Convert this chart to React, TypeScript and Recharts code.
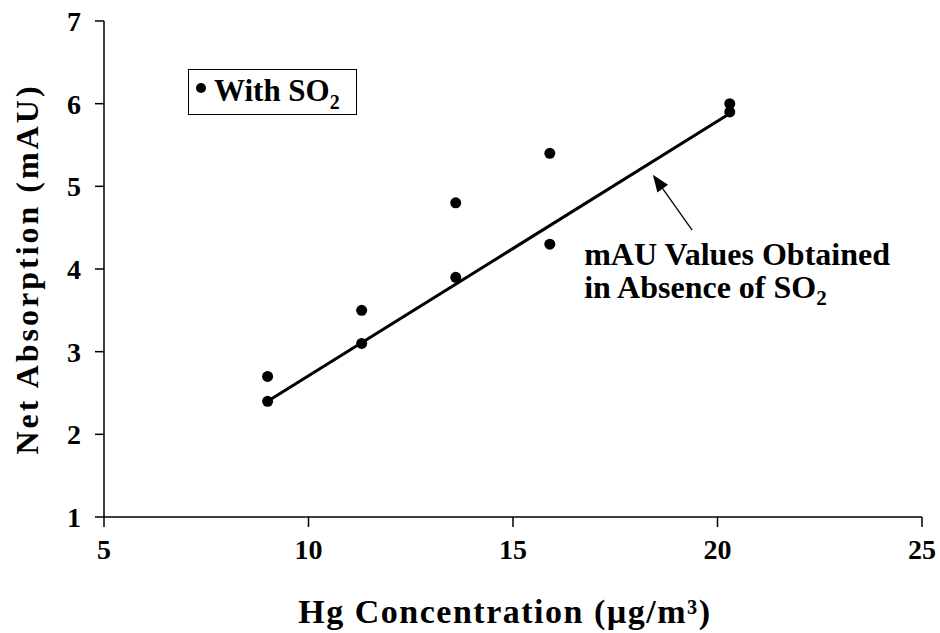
import React from "react";
import {
  ComposedChart,
  Scatter,
  XAxis,
  YAxis,
  Legend,
  Label,
  ReferenceLine,
  ReferenceDot,
} from "recharts";

const FONT = '"Liberation Serif", "Times New Roman", serif';

// measured points, Hg concentration vs net absorption with SO2
const hgConc = [9.0, 9.0, 11.3, 11.3, 13.6, 13.6, 15.9, 15.9, 20.3, 20.3];
const withSO2 = [2.7, 2.4, 3.5, 3.1, 4.8, 3.9, 5.4, 4.3, 6.0, 5.9];

// fitted line, values obtained in absence of SO2
const fitX = [9.0, 20.3];
const fitY = [2.4, 5.88];

const xTicks = [5, 10, 15, 20, 25];
const yTicks = [1, 2, 3, 4, 5, 6, 7];

// arrow pointing at the fit line, and the note under it
const arrowFrom = { x: 19.38, y: 4.47 };
const arrowTo = { x: 18.42, y: 5.14 };
const noteAt = { x: 16.74, y: 4.05 };

const points = hgConc.map((x, i) => ({ x, y: withSO2[i] }));
const fit = fitX.map((x, i) => ({ x, y: fitY[i] }));

const tickStyle = { fill: "#000", fontSize: 28, fontWeight: 700, fontFamily: FONT };

function XTitle(props: any) {
  const vb = props.viewBox || { x: 104, y: 517, width: 818, height: 116 };
  return (
    <text
      x={vb.x + vb.width / 2 - 8}
      y={vb.y + 106}
      textAnchor="middle"
      fontFamily={FONT}
      fontWeight={700}
      fontSize={34}
      letterSpacing={1.5}
      fill="#000"
    >
      Hg Concentration (µg/m³)
    </text>
  );
}

function YTitle(props: any) {
  const vb = props.viewBox || { x: 0, y: 21, width: 104, height: 496 };
  const cx = vb.x + 27;
  const cy = vb.y + vb.height / 2;
  return (
    <text
      x={cx}
      y={cy}
      transform={`rotate(-90 ${cx} ${cy})`}
      textAnchor="middle"
      dominantBaseline="central"
      fontFamily={FONT}
      fontWeight={700}
      fontSize={32}
      letterSpacing={3}
      fill="#000"
    >
      Net Absorption (mAU)
    </text>
  );
}

function LegendBox() {
  return (
    <div
      style={{
        width: 169,
        height: 46,
        border: "1.5px solid #000",
        boxSizing: "border-box",
        display: "flex",
        alignItems: "center",
        fontFamily: FONT,
        fontWeight: 700,
        fontSize: 31,
        color: "#000",
        background: "#fff",
      }}
    >
      <span
        style={{
          display: "inline-block",
          width: 10,
          height: 10,
          borderRadius: 5,
          background: "#000",
          marginLeft: 7,
          marginRight: 8,
          marginTop: -8,
        }}
      />
      <span style={{ lineHeight: "46px" }}>
        With SO<span style={{ fontSize: 20, position: "relative", top: 8 }}>2</span>
      </span>
    </div>
  );
}

function Arrow(props: any) {
  const { x1, y1, x2, y2 } = props;
  const dx = x2 - x1;
  const dy = y2 - y1;
  const len = Math.sqrt(dx * dx + dy * dy) || 1;
  const ux = dx / len;
  const uy = dy / len;
  const hl = 17;
  const hw = 6.5;
  const bx = x2 - ux * hl;
  const by = y2 - uy * hl;
  return (
    <g>
      <line x1={x1} y1={y1} x2={bx} y2={by} stroke="#000" strokeWidth={1.3} />
      <polygon
        points={`${x2},${y2} ${bx - uy * hw},${by + ux * hw} ${bx + uy * hw},${by - ux * hw}`}
        fill="#000"
      />
    </g>
  );
}

function Note(props: any) {
  const { cx, cy } = props;
  return (
    <text
      x={cx}
      y={cy}
      fontFamily={FONT}
      fontWeight={700}
      fontSize={32}
      fill="#000"
    >
      <tspan x={cx}>mAU Values Obtained</tspan>
      <tspan x={cx} dy={33}>in Absence of SO</tspan>
      <tspan fontSize={21} dy={7}>2</tspan>
    </text>
  );
}

export default function App() {
  return (
    <div style={{ position: "absolute", left: 0, top: 0, width: 940, height: 633, background: "#fff" }}>
      <ComposedChart width={940} height={633} margin={{ top: 21, right: 18, bottom: 0, left: 0 }}>
        <XAxis
          type="number"
          dataKey="x"
          domain={[5, 25]}
          ticks={xTicks}
          interval={0}
          height={116}
          tickSize={10}
          tickMargin={12}
          axisLine={{ stroke: "#000", strokeWidth: 1.5 }}
          tickLine={{ stroke: "#000", strokeWidth: 1.5 }}
          tick={tickStyle}
          label={<Label content={XTitle} />}
        />
        <YAxis
          type="number"
          dataKey="y"
          domain={[1, 7]}
          ticks={yTicks}
          interval={0}
          width={104}
          tickSize={9}
          tickMargin={14}
          axisLine={{ stroke: "#000", strokeWidth: 1.5 }}
          tickLine={{ stroke: "#000", strokeWidth: 1.5 }}
          tick={tickStyle}
          label={<Label content={YTitle} />}
        />
        <Legend
          layout="horizontal"
          verticalAlign="middle"
          align="center"
          content={() => <LegendBox />}
          wrapperStyle={{ position: "absolute", left: 188, top: 69, width: "auto", height: "auto" }}
        />
        <Scatter
          name="fit"
          data={fit}
          line={{ stroke: "#000", strokeWidth: 3 }}
          shape={() => <g />}
          legendType="none"
          isAnimationActive={false}
        />
        <Scatter
          name="With SO2"
          data={points}
          fill="#000"
          shape={(p: any) => <circle cx={p.cx} cy={p.cy} r={5.5} fill="#000" />}
          isAnimationActive={false}
        />
        <ReferenceLine segment={[arrowFrom, arrowTo]} shape={Arrow} />
        <ReferenceDot x={noteAt.x} y={noteAt.y} r={0} shape={Note} />
      </ComposedChart>
    </div>
  );
}
